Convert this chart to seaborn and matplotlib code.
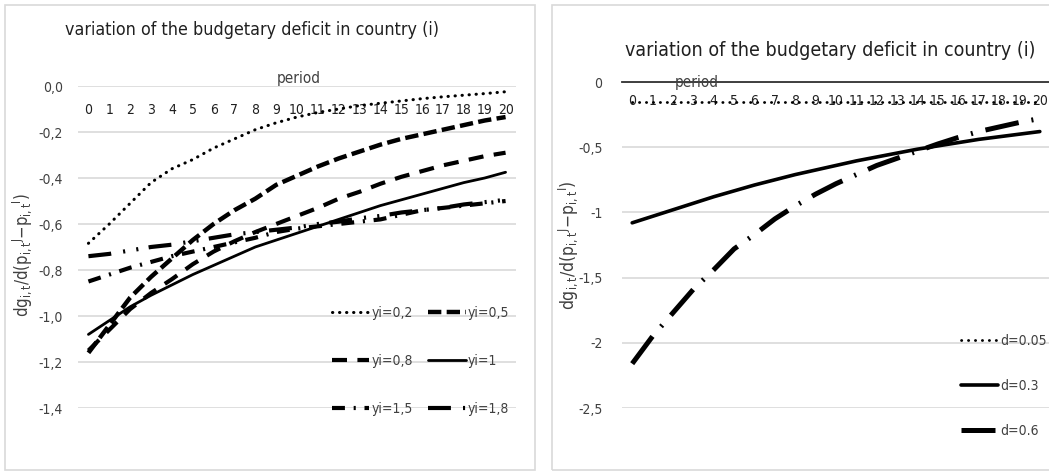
import numpy as np
import pandas as pd
import seaborn as sns
import matplotlib
matplotlib.use("Agg")
import matplotlib.pyplot as plt
from matplotlib.patches import Rectangle
from matplotlib.lines import Line2D

# ---- data -------------------------------------------------------------
periods = list(range(21))

# left panel: response for several values of yi
yi_02 = [-0.684, -0.60, -0.51, -0.42, -0.36, -0.32, -0.27, -0.23, -0.19, -0.16, -0.135,
         -0.115, -0.10, -0.085, -0.075, -0.065, -0.055, -0.047, -0.04, -0.033, -0.025]
yi_05 = [-1.16, -1.04, -0.92, -0.83, -0.75, -0.67, -0.60, -0.54, -0.49, -0.43, -0.39,
         -0.35, -0.315, -0.285, -0.255, -0.23, -0.21, -0.19, -0.17, -0.15, -0.135]
yi_08 = [-1.15, -1.06, -0.97, -0.90, -0.84, -0.775, -0.72, -0.675, -0.635, -0.60, -0.565,
         -0.53, -0.49, -0.46, -0.425, -0.395, -0.37, -0.345, -0.325, -0.305, -0.29]
yi_10 = [-1.08, -1.02, -0.96, -0.91, -0.865, -0.82, -0.78, -0.74, -0.70, -0.67, -0.64,
         -0.61, -0.58, -0.55, -0.52, -0.495, -0.47, -0.445, -0.42, -0.40, -0.375]
yi_15 = [-0.85, -0.82, -0.79, -0.765, -0.74, -0.72, -0.70, -0.68, -0.66, -0.635, -0.62,
         -0.61, -0.60, -0.59, -0.58, -0.56, -0.54, -0.53, -0.52, -0.51, -0.50]
yi_18 = [-0.74, -0.73, -0.715, -0.70, -0.69, -0.675, -0.66, -0.645, -0.635, -0.625, -0.615,
         -0.60, -0.59, -0.575, -0.565, -0.55, -0.54, -0.53, -0.515, -0.505, -0.495]
yi_labels = ["yi=0,2", "yi=0,5", "yi=0,8", "yi=1", "yi=1,5", "yi=1,8"]

# right panel: response for several values of d
d_005 = [-0.155, -0.155, -0.155, -0.155, -0.155, -0.155, -0.155, -0.155, -0.155, -0.155, -0.155,
         -0.155, -0.155, -0.155, -0.155, -0.155, -0.155, -0.155, -0.155, -0.155, -0.155]
d_03 = [-1.08, -1.03, -0.98, -0.93, -0.88, -0.835, -0.79, -0.75, -0.71, -0.675, -0.64,
        -0.605, -0.575, -0.545, -0.515, -0.49, -0.465, -0.44, -0.42, -0.40, -0.38]
d_06 = [-2.16, -1.95, -1.77, -1.59, -1.44, -1.28, -1.17, -1.05, -0.95, -0.86, -0.78,
        -0.71, -0.64, -0.585, -0.53, -0.475, -0.425, -0.38, -0.345, -0.31, -0.28]
d_labels = ["d=0.05", "d=0.3", "d=0.6"]

left_yticks = [0.0, -0.2, -0.4, -0.6, -0.8, -1.0, -1.2, -1.4]
left_yticklabels = ["0,0", "-0,2", "-0,4", "-0,6", "-0,8", "-1,0", "-1,2", "-1,4"]
right_yticks = [0, -0.5, -1, -1.5, -2, -2.5]
right_yticklabels = ["0", "-0,5", "-1", "-1,5", "-2", "-2,5"]

title = "variation of the budgetary deficit in country (i)"
ylabel = r"$\mathrm{dg}_{i,t}/\mathrm{d}(\mathrm{p}_{i,t}{}^{J}\mathrm{-p}_{i,t}{}^{I})$"

# ---- styling -----------------------------------------------------------
sns.set_theme(style="white")
plt.rcParams["font.family"] = ["DejaVu Sans"]
plt.rcParams["font.stretch"] = "condensed"
plt.rcParams["mathtext.default"] = "regular"

W, H = 1049, 472
fig = plt.figure(figsize=(W / 100, H / 100), dpi=100)
fig.patch.set_facecolor("white")

def fx(px):
    return px / W

def fy(py):
    return 1 - py / H

# panel frames
for x0, x1 in [(5, 535), (552, 1060)]:
    fig.patches.append(Rectangle((fx(x0), fy(470)), fx(x1 - x0), (465) / H,
                                 transform=fig.transFigure, fill=False,
                                 edgecolor="#d9d9d9", lw=1.2, zorder=0))

grid_color = "#d9d9d9"
TICK_FS = 10

def style_axes(ax, yticks, yticklabels, ylim, pad, ypad):
    ax.set_xlim(-0.5, 20.5)
    ax.set_ylim(*ylim)
    ax.set_yticks(yticks)
    ax.set_yticklabels(yticklabels, fontsize=TICK_FS, color="#404040")
    ax.set_xticks(periods)
    ax.set_xticklabels([str(p) for p in periods], fontsize=TICK_FS, color="#202020")
    ax.tick_params(axis="x", top=True, labeltop=True, bottom=False, labelbottom=False,
                   length=0, pad=pad)
    ax.tick_params(axis="y", length=0, pad=ypad)
    ax.yaxis.grid(True, color=grid_color, lw=1.2)
    ax.xaxis.grid(False)
    for s in ax.spines.values():
        s.set_visible(False)
    ax.set_facecolor("none")
    ax.set_xlabel("")

# ---- left panel ---------------------------------------------------------
axL = fig.add_axes([fx(78), fy(408), fx(438), (408 - 86) / H])
left_series = [yi_02, yi_05, yi_08, yi_10, yi_15, yi_18]
left_styles = [
    dict(lw=2.2, linestyle=(0, (0.1, 2.2)), dash_capstyle="round"),
    dict(lw=3.2, linestyle=(0, (3.0, 1.2))),
    dict(lw=3.0, linestyle=(0, (3.6, 2.5))),
    dict(lw=2.0, linestyle="-"),
    dict(lw=3.0, linestyle=(0, (3.1, 2.1, 0.5, 2.1))),
    dict(lw=3.0, linestyle=(0, (5.5, 2.9, 0.5, 2.7, 0.5, 2.5))),
]
handles_L = []
for vals, lab, st in zip(left_series, yi_labels, left_styles):
    df = pd.DataFrame({"period": periods, "value": vals})
    sns.lineplot(data=df, x="period", y="value", ax=axL, color="black", label=lab,
                 legend=False, **st)
    handles_L.append(Line2D([], [], color="black", **st))
style_axes(axL, left_yticks, left_yticklabels, (-1.4, 0.0), pad=-22, ypad=11)
axL.set_ylabel(ylabel, fontsize=12, color="#404040")
axL.yaxis.set_label_coords(fx(34 - 78) / fx(438), (472 - 255 - (472 - 408)) / (408 - 86))
axL.text(0.505, 1.0, "period", transform=axL.transAxes, ha="center", va="bottom",
         fontsize=11, color="#404040")
fig.text(fx(252), fy(30), title, ha="center", va="center", fontsize=12.8, color="#202020")

order = [0, 2, 4, 1, 3, 5]
legL = fig.legend([handles_L[i] for i in order], [yi_labels[i] for i in order],
                  ncol=2, loc="center left", bbox_to_anchor=(fx(325), fy(361)),
                  frameon=False, fontsize=10, labelspacing=2.45, handlelength=2.7,
                  handletextpad=0.15, columnspacing=1.1, borderpad=0)
for t in legL.get_texts():
    t.set_color("#404040")

# ---- right panel --------------------------------------------------------
axR = fig.add_axes([fx(622), fy(408), fx(428), (408 - 82) / H])
right_series = [d_005, d_03, d_06]
right_styles = [
    dict(lw=2.0, linestyle=(0, (0.1, 2.4)), dash_capstyle="round"),
    dict(lw=2.6, linestyle="-"),
    dict(lw=3.6, linestyle=(0, (6.8, 2.6, 0.4, 2.6))),
]
handles_R = []
for vals, lab, st in zip(right_series, d_labels, right_styles):
    df = pd.DataFrame({"period": periods, "value": vals})
    sns.lineplot(data=df, x="period", y="value", ax=axR, color="black", label=lab,
                 legend=False, **st)
    handles_R.append(Line2D([], [], color="black", **st))
style_axes(axR, right_yticks, right_yticklabels, (-2.5, 0.0), pad=-19, ypad=14)
axR.spines["top"].set_visible(True)
axR.spines["top"].set_color("#303030")
axR.spines["top"].set_linewidth(1.3)
axR.set_ylabel(ylabel, fontsize=12.5, color="#404040")
axR.yaxis.set_label_coords(fx(580 - 622) / fx(428), (472 - 245 - (472 - 408)) / (408 - 82))
axR.text(0.175, 1.0, "period", transform=axR.transAxes, ha="center", va="center",
         fontsize=11, color="#404040")
fig.text(fx(830), fy(50), title, ha="center", va="center", fontsize=14, color="#202020")

legR = fig.legend(handles_R, d_labels, loc="center left",
                  bbox_to_anchor=(fx(954), fy(386)), frameon=False, fontsize=10,
                  labelspacing=2.25, handlelength=2.7, handletextpad=0.15, borderpad=0)
for t in legR.get_texts():
    t.set_color("#404040")

fig.savefig("out.png", dpi=100, facecolor="white")
